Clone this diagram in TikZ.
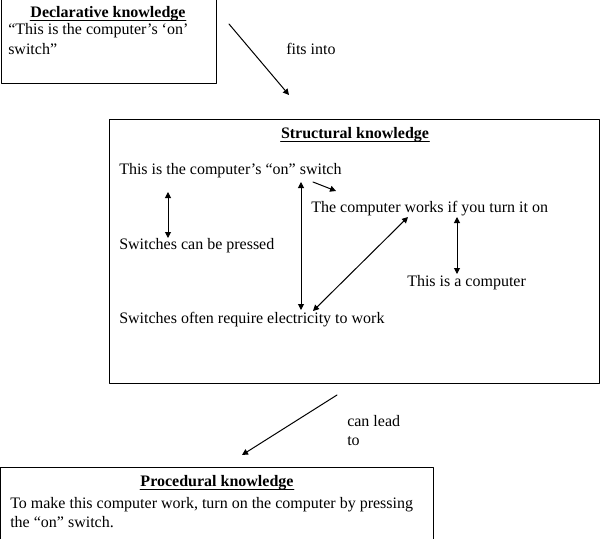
\documentclass[tikz,border=0pt]{standalone}
\usepackage{fontspec}
\setmainfont{Liberation Serif}
\usetikzlibrary{arrows.meta}
\tikzset{
  txt/.style={anchor=base west, inner sep=0pt, font=\fontsize{12}{14}\selectfont},
  ttl/.style={anchor=base, inner sep=0pt, font=\fontsize{12}{14}\selectfont\bfseries},
  link/.style={line width=0.75pt, -{Triangle[length=4.5pt,width=4.5pt]}},
  dlink/.style={line width=0.75pt, {Triangle[length=4.5pt,width=4.5pt]}-{Triangle[length=4.5pt,width=4.5pt]}}
}
\begin{document}
\begin{tikzpicture}[
  x=0.75pt,
  y=-0.75pt,
  line cap=round,
  line join=round
]
  \useasboundingbox (0,0) rectangle (604,539);
  \clip (0,0) rectangle (604,539);

  % Boxes
  \draw[line width=0.75pt] (1,-10) rectangle (216,83);
  \draw[line width=0.75pt] (109,119) rectangle (599,383);
  \draw[line width=0.75pt] (0,467) rectangle (433,560);

  % Declarative knowledge
  \node[ttl] (decltitle) at (108,17) {Declarative knowledge};
  \draw[line width=0.75pt] ([yshift=-2.5pt]decltitle.base west) -- ([yshift=-2.5pt]decltitle.base east);
  \node[txt] (decltext) at (8,35) {“This is the computer’s ‘on’};
  \node[txt] (decltextb) at (8,54) {switch”};

  \node[txt] (fits) at (286,54) {fits into};

  % Structural knowledge
  \node[ttl] (structtitle) at (355,138) {Structural knowledge};
  \draw[line width=0.75pt] ([yshift=-2.5pt]structtitle.base west) -- ([yshift=-2.5pt]structtitle.base east);
  \node[txt] (onswitch) at (119,174) {This is the computer’s “on” switch};
  \node[txt] (works) at (311,212) {The computer works if you turn it on};
  \node[txt] (pressed) at (119,249) {Switches can be pressed};
  \node[txt] (computer) at (407,286) {This is a computer};
  \node[txt] (electricity) at (119,323) {Switches often require electricity to work};

  \node[txt] (canlead) at (347,426) {can lead};
  \node[txt] (canleadb) at (347,445) {to};

  % Procedural knowledge
  \node[ttl] (proctitle) at (217,486) {Procedural knowledge};
  \draw[line width=0.75pt] ([yshift=-2.5pt]proctitle.base west) -- ([yshift=-2.5pt]proctitle.base east);
  \node[txt] (proctext) at (10,508) {To make this computer work, turn on the computer by pressing};
  \node[txt] (proctextb) at (10,527) {the “on” switch.};

  % Arrow ends
  \coordinate (fitsA) at (229,24);
  \coordinate (fitsB) at (289,95);
  \coordinate (swA) at (313,182);
  \coordinate (swB) at (336,191);
  \coordinate (prA) at (168,192);
  \coordinate (prB) at (168,238);
  \coordinate (elA) at (301,182);
  \coordinate (elB) at (301,310);
  \coordinate (wkA) at (408,217);
  \coordinate (wkB) at (313,311);
  \coordinate (pcA) at (457,217);
  \coordinate (pcB) at (457,274);
  \coordinate (leadA) at (337,395);
  \coordinate (leadB) at (242,455);

  % Arrows
  \draw[link] (fitsA) -- (fitsB);
  \draw[link] (swA) -- (swB);
  \draw[dlink] (prA) -- (prB);
  \draw[dlink] (elA) -- (elB);
  \draw[dlink] (wkA) -- (wkB);
  \draw[dlink] (pcA) -- (pcB);
  \draw[link] (leadA) -- (leadB);
\end{tikzpicture}
\end{document}
